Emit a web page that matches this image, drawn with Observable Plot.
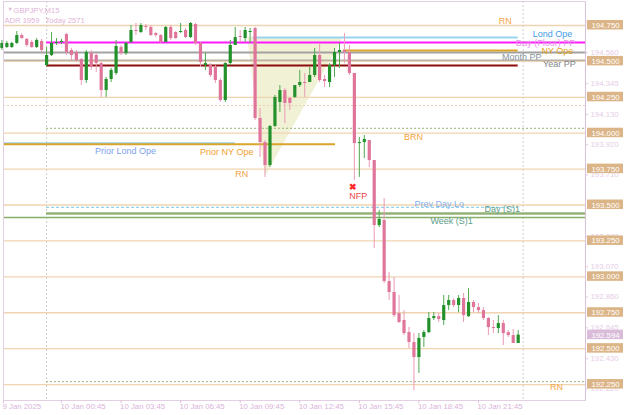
<!DOCTYPE html>
<html><head><meta charset="utf-8">
<script src="https://cdn.jsdelivr.net/npm/d3@7"></script>
<script src="https://cdn.jsdelivr.net/npm/@observablehq/plot@0.6"></script>
<style>
html,body{margin:0;padding:0;background:#fff;}
#chart svg{display:block;}
</style></head><body><div id="chart"></div>
<script>
// ---------- DATA ----------
// bar index: 0 = 10 Jan 00:00 (M15 bars)
const barIndex = d3.range(-9, 96);
const open = [194.590,194.597,194.597,194.625,194.680,194.653,194.632,194.597,194.639,
194.471,194.541,194.625,194.632,194.687,194.576,194.562,194.513,194.367,194.555,
194.541,194.485,194.297,194.374,194.416,194.597,194.555,194.632,194.715,194.701,
194.743,194.736,194.694,194.680,194.632,194.736,194.701,194.701,194.715,194.666,
194.757,194.625,194.471,194.471,194.458,194.367,194.228,194.485,194.611,194.673,
194.659,194.701,194.729,194.102,193.935,193.775,194.047,194.214,194.297,194.242,
194.249,194.332,194.353,194.353,194.402,194.541,194.374,194.353,194.471,194.562,
194.576,194.562,194.416,193.928,193.935,193.949,193.810,193.357,193.392,192.967,
192.891,192.744,192.696,192.612,192.543,192.438,192.578,192.612,192.710,192.723,
192.696,192.800,192.835,192.800,192.849,192.723,192.821,192.786,192.765,192.710,
192.647,192.640,192.675,192.612,192.591,192.536];
const high = [194.646,194.639,194.632,194.708,194.694,194.659,194.646,194.659,194.653,
194.597,194.701,194.659,194.653,194.694,194.590,194.576,194.520,194.576,194.576,
194.555,194.492,194.388,194.451,194.646,194.611,194.632,194.750,194.764,194.764,
194.757,194.750,194.701,194.687,194.743,194.750,194.708,194.764,194.729,194.771,
194.764,194.632,194.555,194.485,194.471,194.381,194.492,194.646,194.736,194.715,
194.736,194.729,194.736,194.172,193.949,194.054,194.263,194.332,194.311,194.249,
194.332,194.437,194.416,194.458,194.590,194.625,194.402,194.485,194.590,194.625,
194.694,194.611,194.416,193.970,193.984,193.949,193.810,193.462,193.545,193.030,
192.995,192.870,192.765,192.647,192.605,192.605,192.626,192.751,192.751,192.744,
192.870,192.870,192.849,192.870,192.884,192.918,192.835,192.814,192.786,192.717,
192.696,192.730,192.696,192.626,192.633,192.626];
const low = [194.576,194.590,194.590,194.618,194.653,194.597,194.590,194.590,194.562,
194.464,194.534,194.611,194.618,194.541,194.506,194.492,194.332,194.346,194.437,
194.423,194.249,194.249,194.353,194.402,194.541,194.541,194.625,194.680,194.694,
194.715,194.673,194.666,194.625,194.632,194.646,194.653,194.694,194.659,194.659,
194.611,194.458,194.437,194.388,194.346,194.214,194.214,194.471,194.611,194.632,
194.632,194.625,194.088,193.831,193.692,193.761,194.040,194.144,194.068,194.158,
194.242,194.318,194.249,194.353,194.388,194.353,194.318,194.318,194.388,194.451,
194.485,194.402,193.671,193.692,193.824,193.761,193.197,193.343,192.953,192.835,
192.717,192.675,192.591,192.501,192.208,192.327,192.508,192.605,192.696,192.682,
192.661,192.765,192.786,192.751,192.682,192.717,192.751,192.744,192.696,192.591,
192.605,192.605,192.522,192.578,192.536,192.536];
const close = [194.625,194.625,194.625,194.680,194.659,194.611,194.597,194.646,194.576,
194.541,194.625,194.632,194.639,194.562,194.541,194.506,194.367,194.562,194.458,
194.485,194.297,194.374,194.437,194.604,194.555,194.625,194.715,194.708,194.750,
194.736,194.680,194.680,194.632,194.736,194.659,194.659,194.708,194.666,194.764,
194.625,194.492,194.485,194.402,194.367,194.228,194.485,194.611,194.666,194.666,
194.715,194.708,194.102,193.935,193.775,194.047,194.249,194.297,194.207,194.207,
194.332,194.353,194.346,194.402,194.541,194.367,194.360,194.471,194.562,194.576,
194.562,194.416,193.928,193.935,193.956,193.810,193.357,193.399,192.967,192.891,
192.730,192.682,192.605,192.543,192.438,192.571,192.612,192.710,192.723,192.703,
192.800,192.835,192.800,192.849,192.730,192.821,192.786,192.765,192.710,192.647,
192.640,192.675,192.605,192.591,192.536,192.594];

const roundNumbers = [194.75,194.5,194.25,194.0,193.75,193.5,193.25,193.0,192.75,192.5,192.25];
const nativeTicks = [194.770,194.560,194.345,194.130,193.920,193.710,193.280,193.070,192.860,192.645,192.430,192.220];
const lastPrice = 192.594;

const tickBars = [-8.68,3,15,27,39,51,63,75,87];
const tickLabels = ["9 Jan 2025","10 Jan 00:45","10 Jan 03:45","10 Jan 06:45","10 Jan 09:45","10 Jan 12:45","10 Jan 15:45","10 Jan 18:45","10 Jan 21:45"];
const daySeparators = [0, 96];

// indicator levels (null = chart edge)
const levelName  = ["Year PP","Month PP","Week PP","Upper dotted","Mid dotted","Prior Lond Ope","Prior NY Ope","Lond Ope","NY Ope","Day (Floor) PP","Prev Day Lo","Week (S)1","Day (S)1","Lower dotted"];
const levelPrice = [194.508,194.562,194.471,194.193,194.033,193.930,193.923,194.666,194.576,194.632,193.483,193.413,193.441,192.271];
const levelFrom  = [null,null,0,null,0,null,null,41.6,59.8,0,0,null,0,0];
const levelTo    = [null,null,95,null,null,38,58.2,95,95,null,95,null,null,null];

// triangle pattern
const triBar    = [40.5,44.1,59.8];
const triTop    = [194.666,194.666,194.666];
const triBottom = [194.666,193.698,194.666];

// chart text labels
const labelText  = ["RN","Lond Ope","Day (Floor) PP","NY Ope","Month PP","Year PP","BRN","Prior Lond Ope","Prior NY Ope","RN","NFP","Prev Day Lo","Day (S)1","Week (S)1","RN"];
const labelBar   = [92.4,101.9,100.5,102.9,95.7,103.3,73.9,15.9,36.3,39.3,62.8,79.1,91.8,81.6,102.7];
const labelPrice = [194.778,194.687,194.625,194.569,194.527,194.482,193.970,193.873,193.869,193.716,193.559,193.503,193.469,193.385,192.229];
const nfpMarkBar = 61.8, nfpMarkPrice = 193.622;

// ---------- STYLE ----------
const xDomain = [-8.68, 108.56], yDomain = [192.139, 194.917];
const W = 625, ML = 3, MR = 40;
const pxToBar = px => xDomain[0] + (px - ML) * (xDomain[1] - xDomain[0]) / (W - ML - MR);
const BULL = "#23912b", BEAR = "#e0759b", BULLW = "#4fa84f", BEARW = "#eb9ab5";
const levelStyle = {
  "Year PP": {stroke:"#b6b1aa", strokeWidth:1.5},
  "Month PP": {stroke:"#a2a2a2", strokeWidth:2},
  "Week PP": {stroke:"#8d0b0b", strokeWidth:2},
  "Upper dotted": {stroke:"#e8d2b4", strokeWidth:1.2, strokeDasharray:"2,2"},
  "Mid dotted": {stroke:"#a9bf92", strokeWidth:1.2, strokeDasharray:"2,2"},
  "Prior Lond Ope": {stroke:"#9ad2ee", strokeWidth:2},
  "Prior NY Ope": {stroke:"#d9a52a", strokeWidth:2},
  "Lond Ope": {stroke:"#99d3ef", strokeWidth:2},
  "NY Ope": {stroke:"#d9a52a", strokeWidth:2},
  "Day (Floor) PP": {stroke:"#ff19ff", strokeWidth:2},
  "Prev Day Lo": {stroke:"#8ed2f2", strokeWidth:1.3, strokeDasharray:"3,2"},
  "Week (S)1": {stroke:"#88ae6c", strokeWidth:1.5},
  "Day (S)1": {stroke:"#93b376", strokeWidth:2.5},
  "Lower dotted": {stroke:"#a9bf92", strokeWidth:1.2, strokeDasharray:"2,2"}
};
const labelColor = {"RN":"#f4a445","BRN":"#f4a445","Lond Ope":"#3f9ce6","Day (Floor) PP":"#e693e6","NY Ope":"#dfa219",
  "Month PP":"#86949c","Year PP":"#7f868c","Prior Lond Ope":"#7c9ff0","Prior NY Ope":"#f4a030","NFP":"#f04848",
  "Prev Day Lo":"#86b0ec","Day (S)1":"#5e9d8a","Week (S)1":"#5e9d8a"};

const bars = barIndex.map((i,k) => ({i, o:open[k], h:high[k], l:low[k], c:close[k]}));
const tri = triBar.map((x,k) => ({x, y1:triTop[k], y2:triBottom[k]}));
const labels = labelText.map((t,k) => ({t, x:labelBar[k], y:labelPrice[k]}));

const levelMarks = levelName.map((n,k) => Plot.ruleY([levelPrice[k]], {
  y: d => d,
  x1: levelFrom[k] == null ? xDomain[0] : levelFrom[k],
  x2: levelTo[k] == null ? xDomain[1] : levelTo[k],
  ...levelStyle[n]
}));

const font = "'Liberation Sans', Arial, sans-serif";
const chart = Plot.plot({
  width: W, height: 415, marginLeft: ML, marginRight: MR, marginTop: 1, marginBottom: 15,
  x: {domain: xDomain, axis: null},
  y: {domain: yDomain, axis: null},
  color: {type: "identity"},
  style: {fontFamily: font, background: "#fff", overflow: "visible"},
  marks: [
    Plot.areaY(tri, {x:"x", y1:"y1", y2:"y2", fill:"#efefcf", fillOpacity:0.85, curve:"linear"}),
    Plot.ruleX(daySeparators, {x: d => d, stroke:"#cccccc", strokeWidth:1, strokeDasharray:"2,2"}),
    Plot.ruleY(roundNumbers, {y: d => d, stroke:"#efd4b1", strokeWidth:1.3}),
    ...levelMarks,
    // candles
    Plot.ruleX(bars, {x:"i", y1:"l", y2:"h", stroke: d => d.c >= d.o ? BULLW : BEARW, strokeWidth:1}),
    Plot.ruleX(bars, {x:"i", y1:"o", y2:"c", stroke: d => d.c >= d.o ? BULL : BEAR, strokeWidth:3.2}),
    // labels
    Plot.text(labels, {x:"x", y:"y", text:"t", fill: d => labelColor[d.t], fontSize:9}),
    Plot.text(["✖"], {x: nfpMarkBar, y: nfpMarkPrice, fill:"#ff2a2a", fontSize:9, fontWeight:"bold"}),
    // frame & axes
    Plot.frame({stroke:"#e2d0e2"}),
    Plot.ruleX([xDomain[1]], {stroke:"#d9bfd9"}),
    Plot.ruleY(nativeTicks, {y: d => d, x1: xDomain[1], x2: xDomain[1], insetRight:-3, stroke:"#e2c9e2"}),
    Plot.text(nativeTicks, {x: pxToBar(590), y: d => d, text: d => d.toFixed(3), textAnchor:"start", fill:"#e6cde6", fontSize:7.8}),
    Plot.rect(roundNumbers, {x1: pxToBar(587), x2: pxToBar(623), y1: d => d, y2: d => d, insetTop:-5, insetBottom:-4.5, fill:"#dbb487"}),
    Plot.text(roundNumbers, {x: pxToBar(605), y: d => d, text: d => d.toFixed(3), fill:"#ffffff", fontSize:7.8}),
    Plot.rect([lastPrice], {x1: pxToBar(587), x2: pxToBar(623), y1: d => d, y2: d => d, insetTop:-5, insetBottom:-4.5, fill:"#d9bcd9"}),
    Plot.text([lastPrice], {x: pxToBar(605), y: d => d, text: d => d.toFixed(3), fill:"#ffffff", fontSize:7.8}),
    Plot.ruleX(tickBars, {x: d => d, y1: yDomain[0], y2: yDomain[0], insetBottom:-3, stroke:"#dcc3dc"}),
    Plot.text(tickBars, {x: d => d, text: (d,k) => tickLabels[k], frameAnchor:"bottom", dy:8, dx:-1, textAnchor:"start", fill:"#d9b4d9", fontSize:7.8}),
    // header
    Plot.text(["▼"], {frameAnchor:"top-left", dx:4, dy:6, fill:"#dfb3d8", fontSize:5.5}),
    Plot.text(["GBPJPY,M15"], {frameAnchor:"top-left", dx:10, dy:6, textAnchor:"start", fill:"#dfb3d8", fontSize:7.6}),
    Plot.text(["ADR 1959"], {frameAnchor:"top-left", dx:1, dy:16, textAnchor:"start", fill:"#dfb3d8", fontSize:7.6}),
    Plot.text(["Today 2571"], {frameAnchor:"top-left", dx:42, dy:16, textAnchor:"start", fill:"#dfb3d8", fontSize:7.6})
  ]
});
document.getElementById("chart").appendChild(chart);
</script>
</body></html>
